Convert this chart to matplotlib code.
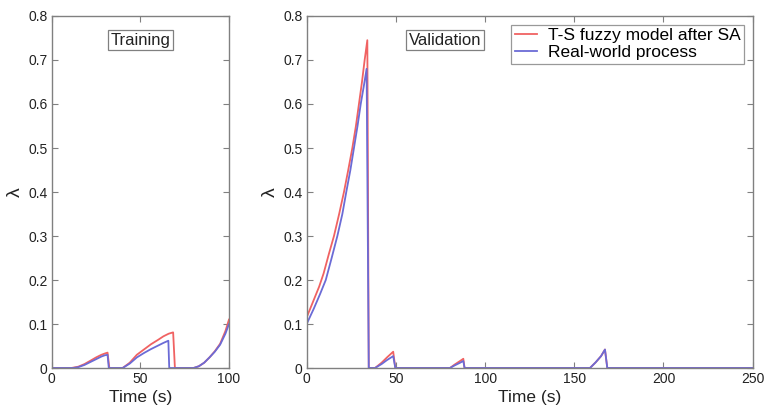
import matplotlib
matplotlib.use("Agg")
import matplotlib.pyplot as plt

plt.rcParams['font.family'] = ['Liberation Sans', 'DejaVu Sans']

# Training data
train_t_red = [0, 11, 15, 18.5, 22, 25, 28, 30, 31.5, 32.5, 40, 44, 48, 52, 56, 60, 63, 66, 68.5, 69.5,
               80, 83, 86, 89, 92, 95, 98, 100]
train_red = [0, 0, 0.003, 0.009, 0.017, 0.024, 0.030, 0.033, 0.035, 0, 0, 0.012, 0.030, 0.042, 0.054,
             0.064, 0.072, 0.078, 0.081, 0, 0, 0.004, 0.012, 0.024, 0.038, 0.055, 0.084, 0.11]
train_t_blue = [0, 12, 15, 18.5, 22, 25, 28, 30, 31.5, 32.2, 40, 44, 48, 52, 56, 60, 63, 65.8, 66.3,
                80, 83, 86, 89, 92, 95, 98, 100]
train_blue = [0, 0, 0.002, 0.007, 0.014, 0.020, 0.026, 0.029, 0.030, 0, 0, 0.010, 0.024, 0.034, 0.043,
              0.051, 0.057, 0.062, 0, 0, 0.004, 0.012, 0.024, 0.037, 0.053, 0.078, 0.10]

# Validation data
val_t_red = [0, 4, 7, 9.5, 12.5, 15.3, 18.2, 20.9, 23.3, 25.6, 27.6, 29.3, 31, 32.5, 34.0, 34.8,
             38.3, 42, 45, 48.5, 49.7, 80.3, 83, 86, 87.8, 88.5, 158.8, 162, 165, 167.2, 168.5, 250]
val_red = [0.115, 0.155, 0.185, 0.215, 0.26, 0.30, 0.35, 0.40, 0.45, 0.50, 0.55, 0.60, 0.65, 0.70, 0.745, 0,
           0, 0.012, 0.024, 0.037, 0, 0, 0.008, 0.016, 0.021, 0, 0, 0.013, 0.027, 0.042, 0, 0]
val_t_blue = [0, 4, 7.5, 10.7, 14, 17.2, 20, 22.2, 24.5, 26.5, 28.5, 30.3, 32, 33.6, 34.8,
              38.3, 42, 45, 48.5, 49.7, 80.3, 83, 86, 87.8, 88.5, 158.8, 162, 165, 167.2, 168.5, 250]
val_blue = [0.10, 0.135, 0.168, 0.20, 0.25, 0.30, 0.35, 0.40, 0.45, 0.50, 0.55, 0.60, 0.64, 0.68, 0,
            0, 0.009, 0.018, 0.027, 0, 0, 0.006, 0.012, 0.016, 0, 0, 0.013, 0.027, 0.042, 0, 0]

y_ticks = [0, 0.1, 0.2, 0.3, 0.4, 0.5, 0.6, 0.7, 0.8]
y_labels = ['0', '0.1', '0.2', '0.3', '0.4', '0.5', '0.6', '0.7', '0.8']
train_xticks = [0, 50, 100]
val_xticks = [0, 50, 100, 150, 200, 250]

RED = '#f06262'
BLUE = '#6b6bd6'
GREY = '#808080'

fig = plt.figure(figsize=(7.64, 4.07), dpi=100)
ax1 = fig.add_axes([0.0677, 0.0958, 0.2320, 0.8649])
ax2 = fig.add_axes([0.4014, 0.0958, 0.5838, 0.8649])

def style(ax, xticks, xmax):
    ax.set_xlim(0, xmax)
    ax.set_ylim(0, 0.8)
    ax.set_xticks(xticks)
    ax.set_xticklabels([str(v) for v in xticks])
    ax.set_yticks(y_ticks)
    ax.set_yticklabels(y_labels)
    ax.tick_params(direction='in', top=True, right=True, length=4, width=0.8,
                   color=GREY, labelsize=10, labelcolor='#222222', pad=3)
    for s in ax.spines.values():
        s.set_color(GREY)
        s.set_linewidth(1.0)
    ax.set_xlabel('Time (s)', fontsize=12.5, color='#222222', labelpad=2.5)
    ax.set_ylabel('λ', fontsize=14, color='#222222', labelpad=3)

ax1.plot(train_t_red, train_red, color=RED, lw=1.3)
ax1.plot(train_t_blue, train_blue, color=BLUE, lw=1.3)
style(ax1, train_xticks, 100)
ax1.text(50, 0.745, 'Training', ha='center', va='center', fontsize=12, color='#222222',
         bbox=dict(boxstyle='square,pad=0.15', fc='white', ec=GREY, lw=0.9))

ax2.plot(val_t_red, val_red, color=RED, lw=1.3, label='T-S fuzzy model after SA')
ax2.plot(val_t_blue, val_blue, color=BLUE, lw=1.3, label='Real-world process')
style(ax2, val_xticks, 250)
ax2.text(77.5, 0.745, 'Validation', ha='center', va='center', fontsize=12, color='#222222',
         bbox=dict(boxstyle='square,pad=0.15', fc='white', ec=GREY, lw=0.9))
leg = ax2.legend(loc='upper right', fontsize=12.5, frameon=True, fancybox=False,
                 borderaxespad=0.5, handlelength=1.3, handletextpad=0.6,
                 borderpad=0.2, labelspacing=0.1)
leg.get_frame().set_edgecolor(GREY)
leg.get_frame().set_linewidth(0.9)

fig.savefig('out.png', dpi=100)
